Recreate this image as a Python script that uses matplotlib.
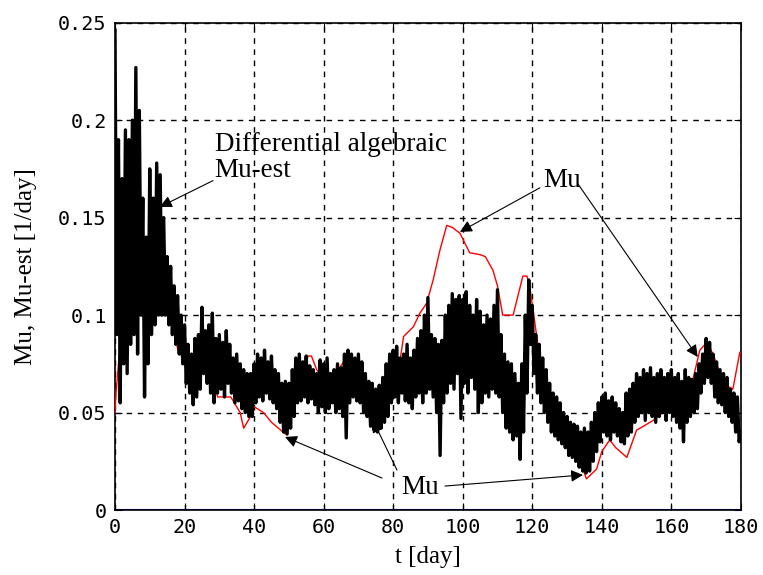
import numpy as np
import matplotlib.pyplot as plt

# true specific growth rate (red)
mu_t = [0, 0.3, 1, 2, 3, 5, 6, 8, 10, 12, 13.5, 15, 17, 18.3, 20, 22, 25.5, 28.3,
        29.5, 33.3, 36, 37, 39, 40, 42.7, 45, 47, 49, 50.3, 52.7, 54, 55.5, 56.5,
        58, 60.9, 64.7, 66, 68.5, 71.4, 72.8, 76, 77, 79, 82, 83, 85.8, 87.7,
        89.6, 91.5, 93.4, 95.4, 97, 99.2, 102, 105, 106.5, 108.7, 110, 111.5,
        114.5, 117.3, 118.5, 119.5, 122, 125, 128, 131, 133.7, 135.6, 138.5,
        140, 142.3, 144, 147.2, 150, 152, 154.8, 157.6, 160, 163, 166.2, 168.2,
        170.2, 172, 175, 177.7, 179.7, 180]
mu_v = [0.05, 0.06, 0.075, 0.09, 0.11, 0.128, 0.127, 0.13, 0.128, 0.125, 0.113,
        0.1, 0.092, 0.08, 0.08, 0.08, 0.074, 0.068, 0.058, 0.058, 0.05, 0.042,
        0.048, 0.053, 0.05, 0.045, 0.042, 0.039, 0.045, 0.062, 0.068, 0.079,
        0.079, 0.072, 0.065, 0.073, 0.077, 0.06, 0.055, 0.048, 0.045, 0.046,
        0.062, 0.077, 0.089, 0.094, 0.101, 0.106, 0.118, 0.133, 0.146, 0.145,
        0.142, 0.132, 0.131, 0.13, 0.123, 0.115, 0.1, 0.1, 0.12, 0.12, 0.112,
        0.08, 0.06, 0.045, 0.035, 0.025, 0.016, 0.021, 0.03, 0.036, 0.032,
        0.027, 0.041, 0.043, 0.046, 0.05, 0.052, 0.055, 0.067, 0.082, 0.086,
        0.08, 0.065, 0.062, 0.081, 0.08]

# estimated growth rate (black): peaks at whole days, troughs at half days
est_hi = [0.246, 0.19, 0.17, 0.195, 0.19, 0.2, 0.227, 0.205, 0.16, 0.14,
          0.175, 0.16, 0.178, 0.172, 0.15, 0.13, 0.125, 0.115, 0.11, 0.1,
          0.095, 0.085, 0.08, 0.088, 0.09, 0.104, 0.092, 0.095, 0.101, 0.088,
          0.09, 0.086, 0.092, 0.085, 0.078, 0.08, 0.075, 0.072, 0.07, 0.07,
          0.075, 0.08, 0.078, 0.082, 0.076, 0.079, 0.072, 0.07, 0.065, 0.066,
          0.065, 0.072, 0.078, 0.08, 0.076, 0.079, 0.074, 0.072, 0.07, 0.077,
          0.075, 0.078, 0.07, 0.072, 0.075, 0.073, 0.08, 0.082, 0.08, 0.078,
          0.08, 0.076, 0.07, 0.066, 0.065, 0.062, 0.064, 0.068, 0.075, 0.08,
          0.082, 0.084, 0.078, 0.08, 0.085, 0.078, 0.082, 0.088, 0.092, 0.1,
          0.109, 0.09, 0.088, 0.085, 0.087, 0.1, 0.105, 0.111, 0.108, 0.11,
          0.108, 0.112, 0.105, 0.1, 0.108, 0.102, 0.095, 0.1, 0.098, 0.105,
          0.113, 0.09, 0.08, 0.076, 0.075, 0.07, 0.065, 0.075, 0.1, 0.118,
          0.105, 0.09, 0.085, 0.078, 0.072, 0.065, 0.06, 0.058, 0.055, 0.05,
          0.048, 0.045, 0.044, 0.043, 0.04, 0.042, 0.04, 0.045, 0.05, 0.055,
          0.058, 0.06, 0.056, 0.058, 0.055, 0.052, 0.05, 0.06, 0.062, 0.065,
          0.07, 0.068, 0.072, 0.07, 0.073, 0.068, 0.07, 0.072, 0.068, 0.07,
          0.072, 0.068, 0.07, 0.066, 0.072, 0.068, 0.067, 0.07, 0.075, 0.08,
          0.088, 0.086, 0.08, 0.076, 0.072, 0.07, 0.068, 0.062, 0.06, 0.058,
          0.04]
est_lo = [0.09, 0.055, 0.075, 0.07, 0.085, 0.09, 0.08, 0.1, 0.058, 0.075,
          0.09, 0.095, 0.1, 0.1, 0.1, 0.095, 0.09, 0.085, 0.08, 0.075,
          0.065, 0.06, 0.054, 0.058, 0.062, 0.07, 0.065, 0.06, 0.055, 0.06,
          0.062, 0.058, 0.065, 0.06, 0.055, 0.056, 0.052, 0.05, 0.048, 0.048,
          0.055, 0.058, 0.056, 0.06, 0.057, 0.055, 0.052, 0.045, 0.04, 0.039,
          0.042, 0.048, 0.055, 0.056, 0.058, 0.055, 0.057, 0.054, 0.05, 0.053,
          0.05, 0.052, 0.055, 0.05, 0.052, 0.048, 0.037, 0.055, 0.058, 0.056,
          0.055, 0.05, 0.048, 0.043, 0.041, 0.04, 0.042, 0.045, 0.048, 0.055,
          0.058, 0.055, 0.06, 0.056, 0.055, 0.052, 0.058, 0.06, 0.055, 0.06,
          0.062, 0.058, 0.05, 0.028, 0.055, 0.06, 0.065, 0.062, 0.07, 0.047,
          0.065, 0.06, 0.068, 0.062, 0.05, 0.055, 0.06, 0.058, 0.062, 0.06,
          0.058, 0.05, 0.042, 0.04, 0.036, 0.038, 0.026, 0.04, 0.06, 0.085,
          0.07, 0.06, 0.055, 0.05, 0.045, 0.04, 0.038, 0.036, 0.034, 0.032,
          0.028, 0.027, 0.025, 0.022, 0.02, 0.019, 0.02, 0.025, 0.03, 0.035,
          0.04, 0.038, 0.036, 0.04, 0.038, 0.035, 0.034, 0.038, 0.04, 0.045,
          0.048, 0.05, 0.046, 0.05, 0.048, 0.045, 0.048, 0.05, 0.046, 0.05,
          0.048, 0.045, 0.042, 0.035, 0.045, 0.048, 0.05, 0.052, 0.06, 0.065,
          0.068, 0.065, 0.058, 0.055, 0.054, 0.05, 0.048, 0.045, 0.04, 0.035]

zero_t = [0, 180]
zero_v = [0, 0]

# interleave peaks and troughs into one trace
est_t = np.empty(len(est_hi) + len(est_lo))
est_v = np.empty_like(est_t)
est_t[0::2] = np.arange(len(est_hi))
est_t[1::2] = np.arange(len(est_lo)) + 0.5
est_v[0::2] = est_hi
est_v[1::2] = est_lo

serif = 'Liberation Serif'
mono = 'DejaVu Sans Mono'

fig = plt.figure(figsize=(7.63, 5.75), dpi=100)
ax = fig.add_axes([0.1507, 0.113, 0.8203, 0.8475])

ax.plot(zero_t, zero_v, color='blue', lw=1.5, zorder=2)
ax.plot(mu_t, mu_v, color='red', lw=1.0, zorder=3)
ax.plot(est_t, est_v, color='black', lw=2.4, zorder=4)

ax.set_xlim(0, 180)
ax.set_ylim(0, 0.25)
ax.set_xticks(np.arange(0, 181, 20))
ax.set_yticks([0, 0.05, 0.1, 0.15, 0.2, 0.25])
ax.set_yticklabels(['0', '0.05', '0.1', '0.15', '0.2', '0.25'])
ax.tick_params(direction='in', length=5, top=True, right=True, labelsize=14.5,
               pad=6)
for lab in ax.get_xticklabels() + ax.get_yticklabels():
    lab.set_family(mono)
ax.grid(True, color='black', linestyle=(0, (4, 4)), lw=1.0)
for s in ax.spines.values():
    s.set_linewidth(1.2)

ax.set_xlabel('t [day]', family=serif, fontsize=18, labelpad=6)
ax.set_ylabel('Mu, Mu-est [1/day]', family=serif, fontsize=18)
ax.yaxis.set_label_coords(-0.125, 0.5)

fs = 19.5
arrow = dict(arrowstyle='-|>', color='black', lw=0.8, mutation_scale=18,
             shrinkA=0, shrinkB=0)
ax.text(28.7, 0.1807, 'Differential algebraic\nMu-est', family=serif,
        fontsize=fs, ha='left', va='center', linespacing=1.05)
ax.annotate('', xy=(12.9, 0.1555), xytext=(28.2, 0.169), arrowprops=arrow)

ax.text(128.5, 0.1689, 'Mu', family=serif, fontsize=fs, ha='center',
        va='center')
ax.annotate('', xy=(99.2, 0.1427), xytext=(122.2, 0.1653), arrowprops=arrow)
ax.annotate('', xy=(167.6, 0.0785), xytext=(133.1, 0.1674), arrowprops=arrow)

ax.text(87.7, 0.0118, 'Mu', family=serif, fontsize=fs, ha='center',
        va='center')
ax.annotate('', xy=(48.9, 0.0375), xytext=(76.8, 0.0164), arrowprops=arrow)
ax.annotate('', xy=(74.2, 0.046), xytext=(81.1, 0.0205), arrowprops=arrow)
ax.annotate('', xy=(134.6, 0.018), xytext=(94.9, 0.0123), arrowprops=arrow)

fig.savefig('out.png', dpi=100, facecolor='white')
